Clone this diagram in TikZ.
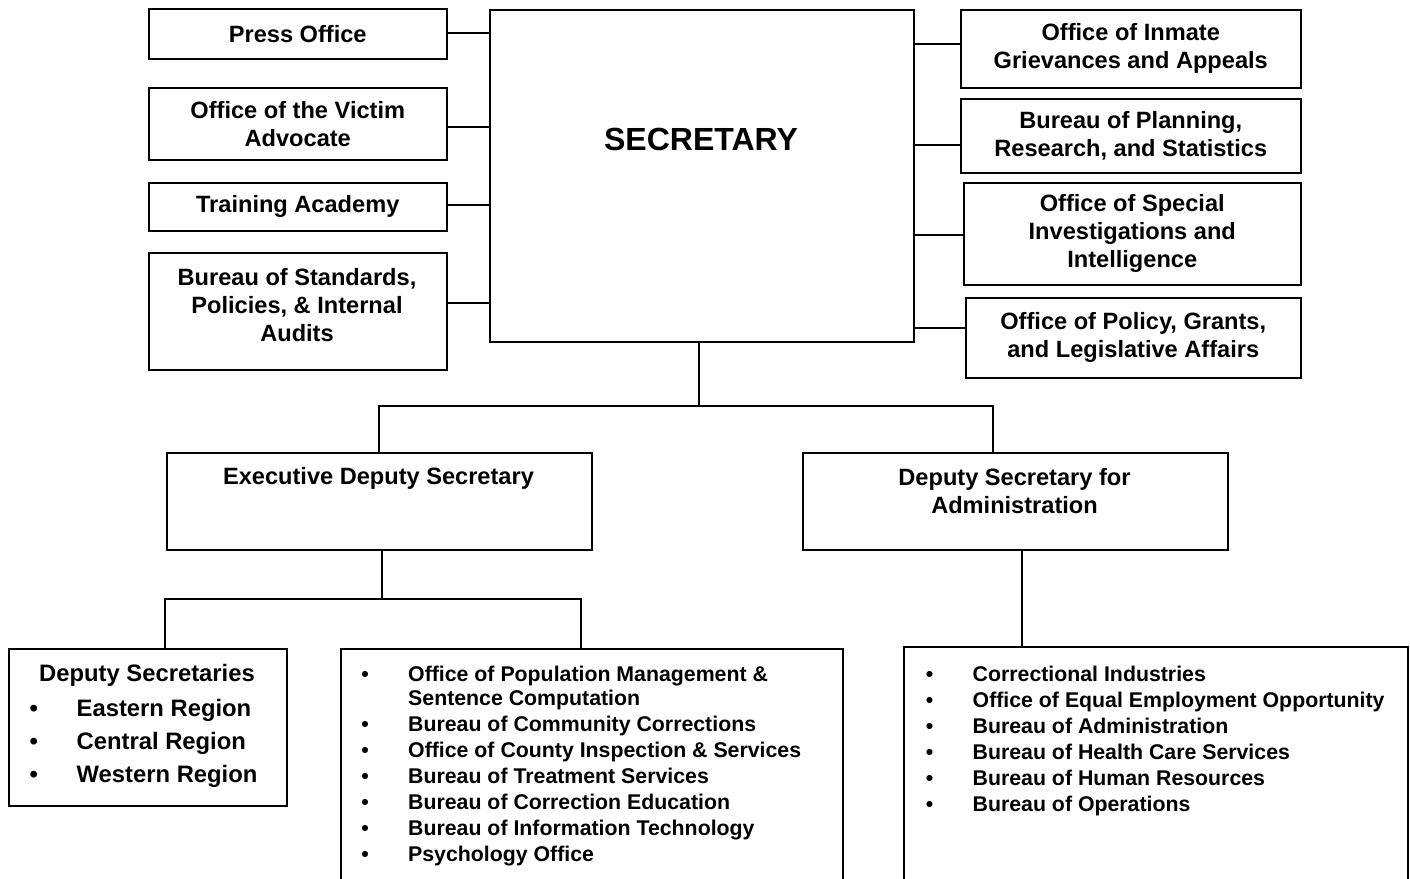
\documentclass[tikz,border=0pt]{standalone}
\usepackage{fontspec}
\setmainfont{Liberation Sans}
\usetikzlibrary{calc}
\tikzset{
	% boxes of the chart, their texts and the lines between them
	unit box/.style={draw,line width=1.5pt,inner sep=0pt,anchor=north west,align=center,font=\fontsize{23.6}{28}\selectfont\bfseries},
	unit text/.style={inner sep=0pt,align=center,font=\fontsize{23.6}{28}\selectfont\bfseries},
	list entry/.style={inner sep=0pt,anchor=base west,font=\fontsize{21.3}{26}\selectfont\bfseries},
	link/.style={line width=2pt}
}

\begin{document}
\begin{tikzpicture}[x=1pt,y=-1pt]
	% macro for a box, given by its top left and bottom right corners
	\newcommand{\unit}[6]{\node[unit box,minimum width={#4-#2},minimum height={#5-#3}](#1)at(#2,#3){#6};}
	% macro for a bulleted entry, bullet 43pt left of the text
	\newcommand{\entry}[4][list entry]{\node[#1](#2)at(#3){\llap{\makebox[0pt]{•}\hspace{43pt}}#4};}
	
	\useasboundingbox (0,0) rectangle (1410,878);
	\clip (0,0) rectangle (1410,878);
	
	% top row
	\unit{press}{148}{8}{446}{58}{Press Office}
	\unit{victim}{148}{87}{446}{159}{Office of the Victim\\Advocate}
	\unit{academy}{148}{182}{446}{230}{Training Academy}
	\unit{standards}{148}{252}{446}{369}{}
	\node[unit text,anchor=north](standards-name)at(297,268){Bureau of Standards,\\Policies, \& Internal\\Audits};
	
	\unit{sec}{489}{9}{913}{341}{}
	\node[unit text,font=\fontsize{32}{38}\selectfont\bfseries](sec-name)at(701,139.5){SECRETARY};
	
	\unit{inmate}{960}{9}{1300}{87}{Office of Inmate\\Grievances and Appeals}
	\unit{planning}{960}{98}{1300}{172}{Bureau of Planning,\\Research, and Statistics}
	\unit{special}{963}{182}{1300}{284}{Office of Special\\Investigations and\\Intelligence}
	\unit{policy}{965}{297}{1300}{377}{Office of Policy, Grants,\\and Legislative Affairs}
	
	% deputies
	\unit{exec}{166}{452}{591}{549}{}
	\node[unit text,anchor=base](exec-name)at(378.5,484){Executive Deputy Secretary};
	\unit{adm}{802}{452}{1227}{549}{}
	\node[unit text,anchor=north](adm-name)at(1014.5,468){Deputy Secretary for\\Administration};
	
	% bottom row
	\unit{deps}{8}{648}{286}{805}{}
	\node[unit text,font=\fontsize{23.8}{28}\selectfont\bfseries,anchor=base](deps-head)at(147,681.5){Deputy Secretaries};
	\foreach \t [count=\i] in {Eastern Region,Central Region,Western Region}
		\entry[list entry,font=\fontsize{23.8}{28}\selectfont\bfseries]{deps-\i}{76.5,{716.5+32.8*(\i-1)}}{\t};
	
	\unit{bureaus}{340}{648}{842}{900}{}
	\entry{mid-1}{408,681.5}{Office of Population Management \&}
	\node[list entry](mid-1b)at(408,705.5){Sentence Computation};
	\foreach \t [count=\i from 2] in {Bureau of Community Corrections,Office of County Inspection \& Services,Bureau of Treatment Services,Bureau of Correction Education,Bureau of Information Technology,Psychology Office}
		\entry{mid-\i}{408,{731.5+26*(\i-2)}}{\t};
	
	\unit{admlist}{903}{646}{1407}{900}{}
	\foreach \t [count=\i] in {Correctional Industries,Office of Equal Employment Opportunity,Bureau of Administration,Bureau of Health Care Services,Bureau of Human Resources,Bureau of Operations}
		\entry{adm-\i}{972.5,{681+26*(\i-1)}}{\t};
	
	% lines to the secretary
	\foreach \n/\s in {press/1pt,victim/-3pt,academy/2pt,standards/8.5pt}
		\draw[link]([yshift=\s]\n.east)--([yshift=\s]\n.east -| sec.west);
	\foreach \n/\s in {inmate/5pt,planning/-9pt,special/-1pt,policy/10pt}
		\draw[link]([yshift=\s]\n.west -| sec.east)--([yshift=\s]\n.west);
	
	\coordinate (sec-bus) at (699,406);
	\draw[link](sec.south -| sec-bus)--(sec-bus);
	\draw[link](exec.north)|-(sec-bus)-|([xshift=-22.5pt]adm.north);
	
	\coordinate (exec-bus) at (382,599);
	\draw[link](exec.south -| exec-bus)--(exec-bus);
	\draw[link]([xshift=17pt]deps.north)|-(exec-bus)-|([xshift=-11pt]bureaus.north);
	
	\draw[link]([xshift=6.5pt]adm.south)--([xshift=6.5pt]adm.south |- admlist.north);
\end{tikzpicture}
\end{document}
